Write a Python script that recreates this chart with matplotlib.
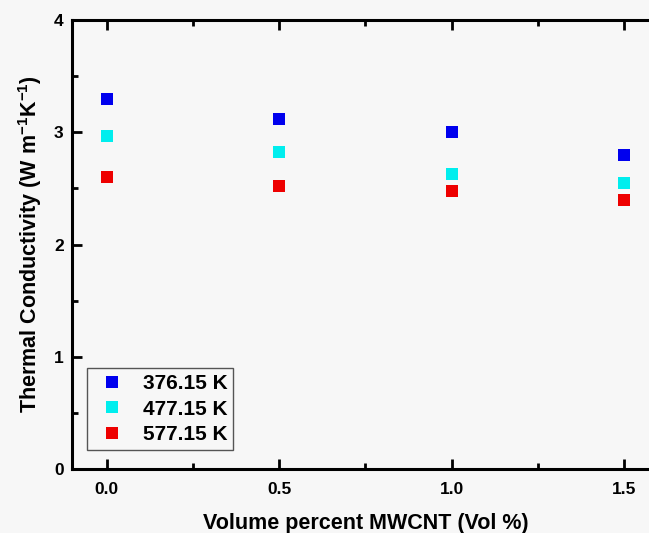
import matplotlib.pyplot as plt
from matplotlib.ticker import MultipleLocator

# Data
vol_percent = [0.0, 0.5, 1.0, 1.5]
k_376 = [3.30, 3.12, 3.00, 2.80]
k_477 = [2.97, 2.82, 2.63, 2.55]
k_577 = [2.60, 2.52, 2.48, 2.40]
series_labels = ["376.15 K", "477.15 K", "577.15 K"]
series_colors = ["#0000ee", "#00eeee", "#ee0000"]

plt.rcParams["font.family"] = ["Liberation Sans", "DejaVu Sans"]
plt.rcParams["font.weight"] = "bold"
plt.rcParams["mathtext.default"] = "regular"

BG = "#f7f7f7"
fig = plt.figure(figsize=(6.49, 5.33), dpi=100, facecolor=BG)
ax = fig.add_axes([0.111, 0.120, 0.904, 0.8424], facecolor=BG)

for ys, lab, col in zip([k_376, k_477, k_577], series_labels, series_colors):
    ax.plot(vol_percent, ys, linestyle="none", marker="s", markersize=8,
            color=col, markeredgewidth=0, label=lab)

ax.set_xlim(-0.1, 1.6)
ax.set_ylim(0, 4)
ax.xaxis.set_major_locator(MultipleLocator(0.5))
ax.xaxis.set_minor_locator(MultipleLocator(0.25))
ax.yaxis.set_major_locator(MultipleLocator(1))
ax.yaxis.set_minor_locator(MultipleLocator(0.5))
ax.xaxis.set_major_formatter(plt.FuncFormatter(lambda v, p: "{:.1f}".format(v)))

for side in ax.spines.values():
    side.set_linewidth(2.2)
ax.tick_params(which="both", direction="in", top=True, right=True, width=2.0)
ax.tick_params(which="major", length=7, labelsize=12.5)
ax.tick_params(axis="x", which="major", pad=9)
ax.tick_params(axis="y", which="major", pad=6)
ax.tick_params(which="minor", length=4)
for lbl in ax.get_xticklabels() + ax.get_yticklabels():
    lbl.set_fontweight("bold")

ax.set_xlabel("Volume percent MWCNT (Vol %)", fontsize=15.5, fontweight="bold",
              labelpad=12)
ax.set_ylabel("Thermal Conductivity (W m$^{-1}$K$^{-1}$)", fontsize=15.5,
              fontweight="bold", labelpad=7)

leg = ax.legend(loc="lower left", bbox_to_anchor=(0.026, 0.042),
                borderaxespad=0, fancybox=False, framealpha=1,
                prop={"size": 15, "weight": "bold"}, handlelength=1.8,
                handletextpad=0.55, borderpad=0.3, labelspacing=0.3)
leg.get_frame().set_edgecolor("#555555")
leg.get_frame().set_linewidth(1.0)
leg.get_frame().set_facecolor(BG)

fig.savefig("out.png", dpi=100, facecolor=BG)
